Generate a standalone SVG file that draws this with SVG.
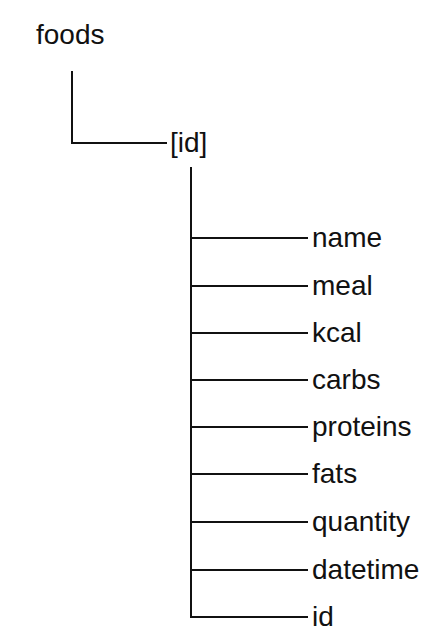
<svg xmlns="http://www.w3.org/2000/svg" width="430" height="644" viewBox="0 0 430 644">
<style>
.t{font-family:"Liberation Sans",Arial,sans-serif;font-size:28px;fill:#111;}
.c{stroke:#111;stroke-width:2;fill:none;}
</style>
<rect width="430" height="644" fill="#fff"/>
<g id="connectors">
<path class="c" d="M72 71V143H167"/>
<path class="c" d="M191 167V617H308"/>
<path class="c" d="M191 238H308M191 286H308M191 333H308M191 380H308M191 427H308M191 474H308M191 522H308M191 570H308"/>
</g>
<g id="foods"><text class="t" x="36" y="44">foods</text></g>
<g id="idgroup"><text class="t" x="170" y="152">[id]</text></g>
<g id="name"><text class="t" x="312" y="247">name</text></g>
<g id="meal"><text class="t" x="312" y="295">meal</text></g>
<g id="kcal"><text class="t" x="312" y="342">kcal</text></g>
<g id="carbs"><text class="t" x="312" y="389">carbs</text></g>
<g id="proteins"><text class="t" x="312" y="436">proteins</text></g>
<g id="fats"><text class="t" x="312" y="483">fats</text></g>
<g id="quantity"><text class="t" x="312" y="531">quantity</text></g>
<g id="datetime"><text class="t" x="312" y="579">datetime</text></g>
<g id="id"><text class="t" x="312" y="626">id</text></g>
</svg>
